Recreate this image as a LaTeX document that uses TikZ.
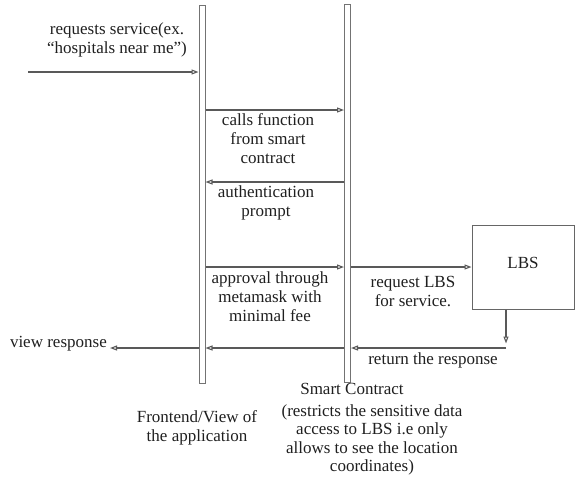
\documentclass[tikz,border=0pt]{standalone}
\usepackage{fontspec}
\setmainfont{Liberation Serif}
\usetikzlibrary{arrows.meta,calc}
\begin{document}
\begin{tikzpicture}[x=1pt,y=-1pt,
  life/.style={draw=black!55, fill=white, line width=1pt, minimum width=6pt, inner sep=0pt, anchor=north},
  msg/.style={draw=black!65, line width=1.1pt, -{Triangle[open,length=7pt,width=5pt]}},
  lbl/.style={font=\fontsize{17}{19}\selectfont, text=black!88, align=center, inner sep=0pt},
  boxst/.style={draw=black!60, line width=1pt, minimum width=102pt, minimum height=84pt, inner sep=0pt}]
\useasboundingbox (0,0) rectangle (576,480);

% lifelines
\node[life, minimum height=378pt] (fe) at (202,5) {};
\node[life, minimum height=378pt] (sc) at (347.5,4) {};
% LBS box
\node[boxst] (lbs) at (523,267) {};
\node[lbl] (lbstext) at (523,263) {LBS};

% message heights
\coordinate (in) at (28,72);
\coordinate (y2) at (0,110);
\coordinate (y3) at (0,182);
\coordinate (y4) at (0,267);
\coordinate (ret) at (506,348);
\coordinate (vrend) at (110,348);

% arrows
\draw[msg] (in) -- (fe.west |- in);
\draw[msg] (fe.east |- y2) -- (sc.west |- y2);
\draw[msg] (sc.west |- y3) -- (fe.east |- y3);
\draw[msg] (fe.east |- y4) -- (sc.west |- y4);
\draw[msg] (sc.east |- y4) -- (lbs.west |- y4);
\draw[msg] (lbs.south -| ret) -- ++(0,34);
\draw[msg] (ret) -- (sc.east |- ret);
\draw[msg] (sc.west |- ret) -- (fe.east |- ret);
\draw[msg] (fe.west |- ret) -- (vrend);

% labels
\node[lbl] (l1) at (117,40) {requests service(ex.\\``hospitals near me'')};
\node[lbl] (l2) at (268,139) {calls function\\from smart\\contract};
\node[lbl] (l3) at (266,203) {authentication\\prompt};
\node[lbl] (l4) at (270,297) {approval through\\metamask with\\minimal fee};
\node[lbl] (l5) at (413,291) {request LBS\\for service.};
\node[lbl] (l6) at (433,360) {return the response};
\node[lbl, anchor=east] (vr) at (107,344) {view response};
\node[lbl] (fel) at (197,428) {Frontend/View of\\the application};
\node[lbl] (scl) at (352,389) {Smart Contract};
\node[lbl, font=\fontsize{17}{18.5}\selectfont] (scd) at (372,440) {(restricts the sensitive data\\access to LBS i.e only\\allows to see the location\\coordinates)};
\end{tikzpicture}
\end{document}
